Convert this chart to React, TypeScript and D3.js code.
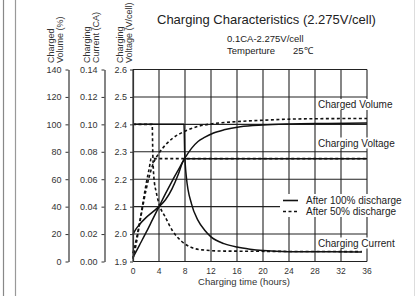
import React, { useEffect, useRef } from "react";
import * as d3 from "d3";

// hours vs value
const hourTicks = [0, 4, 8, 12, 16, 20, 24, 28, 32, 36];
const volumeTicks = [0, 20, 40, 60, 80, 100, 120, 140];
const currentTicks = [0, 0.02, 0.04, 0.06, 0.08, 0.1, 0.12, 0.14];
const voltageTicks = [1.9, 2.0, 2.1, 2.2, 2.3, 2.4, 2.5, 2.6];

type Pt = [number, number];

// After 100% discharge (solid)
const volumeFull: Pt[] = [
  [0, 3], [1, 12], [2, 21], [3, 30.5], [4, 40], [5, 49.5], [6, 58.5], [7, 67], [8, 75.5],
  [9, 82.5], [10, 87.5], [11, 90.5], [12.3, 93.5], [14, 96], [16.5, 98.3], [20, 99.6],
  [24, 100.3], [30, 100.7], [36, 101],
];
const voltageFull: Pt[] = [
  [0, 2.0], [0.5, 2.02], [1, 2.035], [2, 2.06], [3, 2.08], [4, 2.1], [5, 2.125], [6, 2.165],
  [7, 2.22], [7.6, 2.26], [8, 2.275], [36, 2.275],
];
const currentFull: Pt[] = [
  [0, 0.1], [7.85, 0.1], [7.95, 0.08], [8.2, 0.062], [9, 0.042], [10, 0.03], [11, 0.023],
  [12, 0.018], [14, 0.013], [16, 0.0105], [18, 0.009], [20, 0.008], [24, 0.0072], [35.2, 0.007],
];

// After 50% discharge (dashed)
const volumeHalf: Pt[] = [
  [0, 2], [0.5, 13], [1, 27], [1.5, 40], [2, 52], [2.5, 62], [3, 70], [4, 79], [5, 85],
  [6, 89.5], [8, 95], [10, 98.5], [12, 100.3], [16, 102], [20, 103], [26, 104], [36, 104.3],
];
const voltageHalf: Pt[] = [
  [0, 1.93], [0.5, 1.98], [1, 2.04], [1.5, 2.11], [2, 2.18], [2.5, 2.24], [2.8, 2.275], [36, 2.275],
];
const currentHalf: Pt[] = [
  [0, 0.1], [2.95, 0.1], [3.05, 0.078], [3.2, 0.062], [3.6, 0.05], [4.15, 0.04], [4.9, 0.033],
  [6, 0.023], [7.5, 0.0146], [9, 0.0102], [10.6, 0.0085], [14, 0.0076], [35.2, 0.0072],
];

const FONT = "'Liberation Sans', Arial, sans-serif";

const App = () => {
  const svgRef = useRef<SVGSVGElement>(null);

  useEffect(() => {
    const svg = d3.select(svgRef.current);
    svg.selectAll("*").remove();

    const x = d3.scaleLinear().domain([0, 36]).range([133, 367]);
    const yV = d3.scaleLinear().domain([1.9, 2.6]).range([261.5, 69.5]);
    const yC = d3.scaleLinear().domain([0, 0.14]).range([261.5, 69.5]);
    const yP = d3.scaleLinear().domain([0, 140]).range([261.5, 69.5]);

    svg.append("rect").attr("width", 420).attr("height", 296).attr("fill", "#fff");

    // frame lines
    svg.append("line").attr("x1", 3.5).attr("x2", 3.5).attr("y1", 0).attr("y2", 296)
      .attr("stroke", "#888").attr("stroke-width", 1.2);
    svg.append("line").attr("x1", 15.5).attr("x2", 15.5).attr("y1", 0).attr("y2", 296)
      .attr("stroke", "#999").attr("stroke-width", 1.2);
    svg.append("line").attr("x1", 414.5).attr("x2", 414.5).attr("y1", 0).attr("y2", 296)
      .attr("stroke", "#ddd").attr("stroke-width", 1);

    // grid
    const grid = svg.append("g").attr("stroke", "#222").attr("stroke-width", 1.1);
    grid.selectAll("line.h").data(voltageTicks).enter().append("line")
      .attr("x1", x(0)).attr("x2", x(36))
      .attr("y1", (d) => yV(d)).attr("y2", (d) => yV(d));
    grid.selectAll("line.v").data(hourTicks).enter().append("line")
      .attr("y1", yV(2.6)).attr("y2", yV(1.9))
      .attr("x1", (d) => x(d)).attr("x2", (d) => x(d));

    // curves
    const line = (ys: d3.ScaleLinear<number, number>) =>
      d3.line<Pt>().x((d) => x(d[0])).y((d) => ys(d[1])).curve(d3.curveMonotoneX);

    const curves: [Pt[], d3.ScaleLinear<number, number>, boolean][] = [
      [volumeHalf, yP, true],
      [voltageHalf, yV, true],
      [currentHalf, yC, true],
      [volumeFull, yP, false],
      [voltageFull, yV, false],
      [currentFull, yC, false],
    ];
    curves.forEach(([data, ys, dashed]) => {
      svg.append("path")
        .attr("d", line(ys)(data))
        .attr("fill", "none")
        .attr("stroke", "#111")
        .attr("stroke-width", dashed ? 1.6 : 1.5)
        .attr("stroke-dasharray", dashed ? "3,2.5" : null);
    });

    // curve labels on white boxes
    const labels: [string, number, number][] = [
      ["Charged Volume", 318, 108],
      ["Charging Voltage", 318, 146.5],
      ["Charging Current", 318, 246.5],
    ];
    labels.forEach(([t, lx, ly]) => {
      const g = svg.append("g");
      const txt = g.append("text").attr("x", lx).attr("y", ly)
        .attr("font-family", FONT).attr("font-size", 10).attr("fill", "#222").text(t);
      const b = (txt.node() as SVGTextElement).getBBox();
      g.insert("rect", "text").attr("x", b.x - 2).attr("y", b.y)
        .attr("width", b.width + 4).attr("height", b.height).attr("fill", "#fff");
    });

    // legend
    const lg = svg.append("g");
    lg.append("rect").attr("x", 280).attr("y", 194).attr("width", 130).attr("height", 23).attr("fill", "#fff");
    [["After 100% discharge", 204, false], ["After 50% discharge", 215, true]].forEach(([t, ly, dashed]) => {
      lg.append("line").attr("x1", 283).attr("x2", 298)
        .attr("y1", (ly as number) - 3.5).attr("y2", (ly as number) - 3.5)
        .attr("stroke", "#111").attr("stroke-width", 1.6)
        .attr("stroke-dasharray", dashed ? "3,2.5" : null);
      lg.append("text").attr("x", 306).attr("y", ly as number)
        .attr("font-family", FONT).attr("font-size", 10).attr("fill", "#222").text(t as string);
    });

    // left axes
    const styleAxis = (g: d3.Selection<SVGGElement, unknown, null, undefined>) => {
      g.selectAll("text").attr("font-family", FONT).attr("font-size", 9).attr("fill", "#333");
      g.selectAll("line").attr("stroke", "#333");
      g.select(".domain").attr("stroke", "#333").attr("stroke-width", 1.2);
    };
    svg.append("g").attr("transform", "translate(68.5,0)")
      .call(d3.axisLeft(yP).tickValues(volumeTicks).tickSize(3).tickSizeOuter(0).tickPadding(4))
      .call(styleAxis);
    svg.append("g").attr("transform", "translate(104.5,0)")
      .call(d3.axisLeft(yC).tickValues(currentTicks).tickSize(3).tickSizeOuter(0).tickPadding(4)
        .tickFormat(d3.format(".2f")))
      .call(styleAxis);
    svg.append("g").attr("transform", `translate(${x(0)},0)`)
      .call(d3.axisLeft(yV).tickValues(voltageTicks).tickSize(3).tickSizeOuter(0).tickPadding(3)
        .tickFormat(d3.format(".1f")))
      .call(styleAxis);

    // bottom tick labels
    svg.append("g").selectAll("text").data(hourTicks).enter().append("text")
      .attr("x", (d) => x(d)).attr("y", 274).attr("text-anchor", "middle")
      .attr("font-family", FONT).attr("font-size", 8.5).attr("fill", "#333").text((d) => d);
    svg.append("text").attr("x", 244).attr("y", 285).attr("text-anchor", "middle")
      .attr("font-family", FONT).attr("font-size", 9.5).attr("fill", "#333").text("Charging time (hours)");

    // rotated axis titles
    const yTitles: [string, string, number][] = [
      ["Charged", "Volume (%)", 54],
      ["Charging", "Current (CA)", 90],
      ["Charging", "Voltage (V/cell)", 123],
    ];
    yTitles.forEach(([a, b, tx]) => {
      const t = svg.append("text").attr("transform", `translate(${tx},63) rotate(-90)`)
        .attr("font-family", FONT).attr("font-size", 9).attr("fill", "#333");
      t.append("tspan").attr("x", 0).attr("y", 0).text(a);
      t.append("tspan").attr("x", 0).attr("y", 8.5).text(b);
    });

    // title
    svg.append("text").attr("x", 157).attr("y", 24)
      .attr("font-family", FONT).attr("font-size", 13).attr("fill", "#222")
      .text("Charging Characteristics (2.275V/cell)");
    svg.append("text").attr("x", 227).attr("y", 42)
      .attr("font-family", FONT).attr("font-size", 9.5).attr("fill", "#222").text("0.1CA-2.275V/cell");
    svg.append("text").attr("x", 227).attr("y", 53.5)
      .attr("font-family", FONT).attr("font-size", 9.5).attr("fill", "#222").text("Temperture");
    svg.append("text").attr("x", 293).attr("y", 53.5)
      .attr("font-family", FONT).attr("font-size", 9.5).attr("fill", "#222").text("25℃");
  }, []);

  return (
    <svg ref={svgRef} width={420} height={296}
      style={{ position: "absolute", left: 0, top: 0, display: "block" }} />
  );
};

export default App;
